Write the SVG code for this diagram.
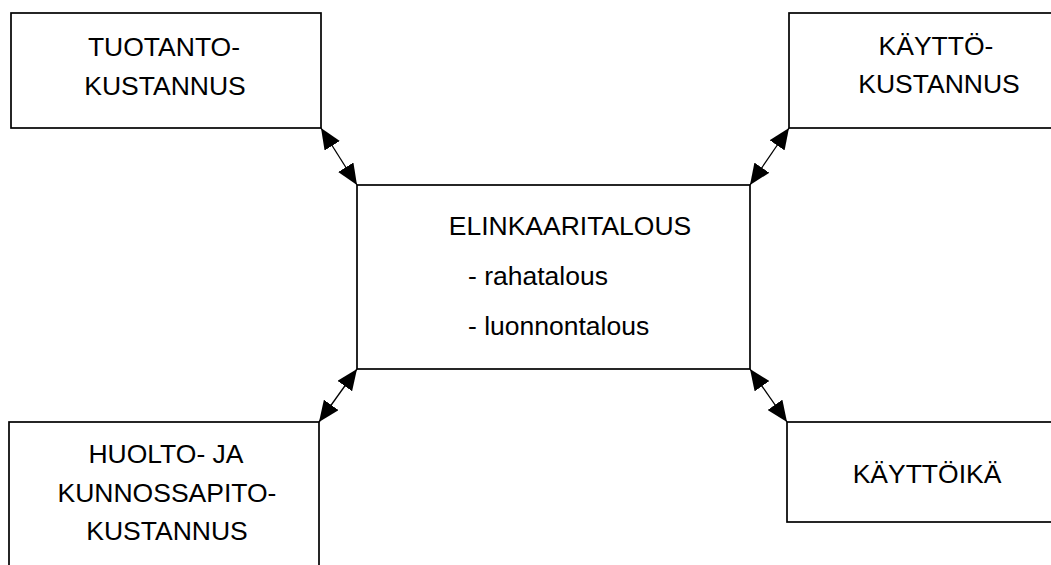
<svg xmlns="http://www.w3.org/2000/svg" width="1051" height="565" viewBox="0 0 1051 565">
  <style>
    .box { fill: #ffffff; stroke: #000000; stroke-width: 1.7; }
    .lbl { font-family: "Liberation Sans", Arial, sans-serif; font-size: 26.5px; fill: #000000; }
    .mid { text-anchor: middle; }
    .link { stroke: #000000; stroke-width: 1.3; fill: none; marker-start: url(#head); marker-end: url(#head); }
  </style>
  <defs>
    <marker id="head" viewBox="0 0 21 18" refX="21" refY="9" markerWidth="21" markerHeight="18" markerUnits="userSpaceOnUse" orient="auto-start-reverse">
      <path d="M0,0 L21,9 L0,18 Z" fill="#000000"/>
    </marker>
  </defs>
  <rect width="1051" height="565" fill="#ffffff"/>

  <g id="node-tuotanto">
    <rect class="box" x="11" y="13" width="310" height="115"/>
    <text class="lbl mid" x="164" y="56">TUOTANTO-</text>
    <text class="lbl mid" x="165" y="95">KUSTANNUS</text>
  </g>

  <g id="node-kaytto">
    <rect class="box" x="789" y="13" width="280" height="115"/>
    <text class="lbl mid" x="936" y="55">KÄYTTÖ-</text>
    <text class="lbl mid" x="939" y="93">KUSTANNUS</text>
  </g>

  <g id="node-elinkaari">
    <rect class="box" x="357" y="185" width="393" height="184"/>
    <text class="lbl mid" x="570" y="235">ELINKAARITALOUS</text>
    <text class="lbl" x="468" y="285">- rahatalous</text>
    <text class="lbl" x="468" y="335">- luonnontalous</text>
  </g>

  <g id="node-huolto">
    <rect class="box" x="9" y="422" width="310" height="160"/>
    <text class="lbl mid" x="166" y="463">HUOLTO- JA</text>
    <text class="lbl mid" x="167" y="502">KUNNOSSAPITO-</text>
    <text class="lbl mid" x="167" y="540">KUSTANNUS</text>
  </g>

  <g id="node-kayttoika">
    <rect class="box" x="787" y="422" width="280" height="100"/>
    <text class="lbl mid" x="927" y="483">KÄYTTÖIKÄ</text>
  </g>

  <g id="connectors">
    <line class="link" x1="321" y1="128" x2="357" y2="185"/>
    <line class="link" x1="789" y1="128" x2="750" y2="185"/>
    <line class="link" x1="357" y1="369" x2="319" y2="422"/>
    <line class="link" x1="750" y1="369" x2="787" y2="422"/>
  </g>
</svg>
